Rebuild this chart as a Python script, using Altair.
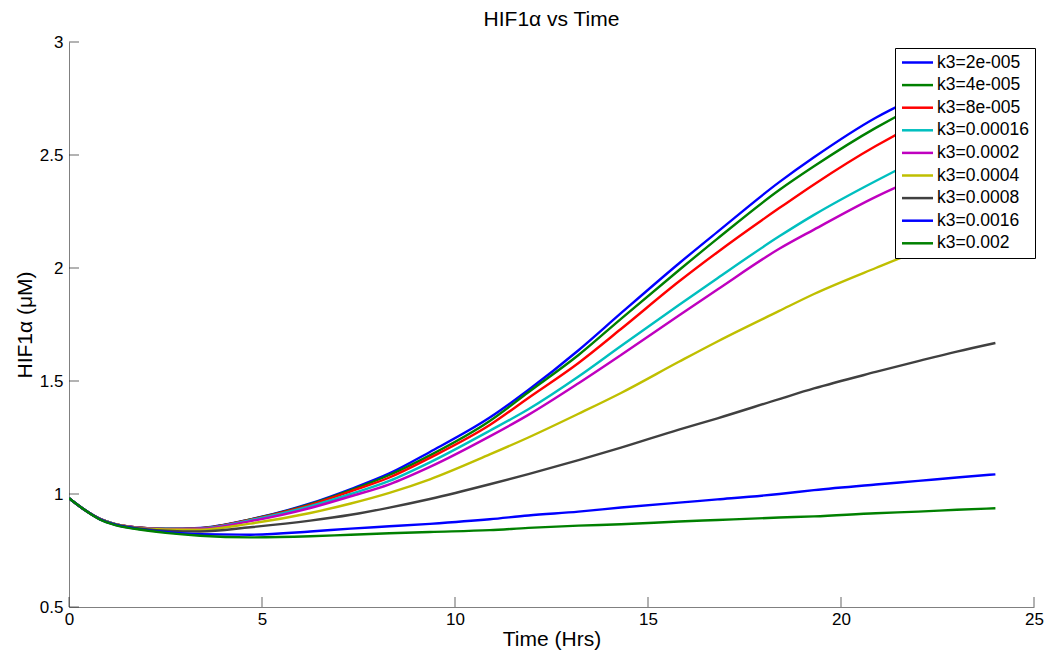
import altair as alt
import pandas as pd

# ---- data ----
time_hrs = [0, 0.4, 0.8, 1.2, 1.7, 2.5, 3.4, 4.7, 6.25, 7.3, 8.3, 9.35, 10.9, 11.9,
            13.2, 14.3, 15.8, 16.8, 18.4, 19.3, 20.9, 22.0, 23.0, 24.0]

labels = ["k3=2e-005", "k3=4e-005", "k3=8e-005", "k3=0.00016", "k3=0.0002",
          "k3=0.0004", "k3=0.0008", "k3=0.0016", "k3=0.002"]
colors = ["#0000FF", "#008000", "#FF0000", "#00BFBF", "#BF00BF",
          "#BFBF00", "#404040", "#0000FF", "#008000"]

k3_2e5 = [0.981, 0.930, 0.890, 0.867, 0.853, 0.846, 0.850, 0.888, 0.958, 1.022, 1.091, 1.186,
          1.338, 1.460, 1.636, 1.800, 2.020, 2.160, 2.380, 2.490, 2.665, 2.760, 2.840, 2.910]
k3_4e5 = [0.981, 0.930, 0.890, 0.867, 0.853, 0.845, 0.849, 0.887, 0.955, 1.017, 1.084, 1.171,
          1.323, 1.450, 1.615, 1.775, 1.990, 2.130, 2.345, 2.450, 2.620, 2.720, 2.800, 2.870]
k3_8e5 = [0.981, 0.930, 0.890, 0.867, 0.853, 0.845, 0.848, 0.886, 0.952, 1.012, 1.073, 1.160,
          1.305, 1.425, 1.580, 1.730, 1.940, 2.070, 2.265, 2.370, 2.540, 2.640, 2.720, 2.790]
k3_16e5 = [0.981, 0.930, 0.890, 0.867, 0.852, 0.845, 0.847, 0.884, 0.946, 1.000, 1.058, 1.140,
           1.280, 1.375, 1.520, 1.655, 1.836, 1.955, 2.140, 2.235, 2.385, 2.480, 2.560, 2.630]
k3_2e4 = [0.981, 0.930, 0.890, 0.866, 0.852, 0.844, 0.846, 0.880, 0.938, 0.990, 1.043, 1.120,
          1.255, 1.350, 1.490, 1.615, 1.790, 1.905, 2.085, 2.170, 2.315, 2.400, 2.470, 2.530]
k3_4e4 = [0.981, 0.930, 0.889, 0.866, 0.851, 0.843, 0.842, 0.869, 0.916, 0.958, 1.005, 1.065,
          1.175, 1.250, 1.355, 1.447, 1.585, 1.675, 1.810, 1.885, 2.000, 2.075, 2.135, 2.190]
k3_8e4 = [0.981, 0.930, 0.889, 0.865, 0.850, 0.838, 0.834, 0.853, 0.882, 0.908, 0.940, 0.978,
          1.043, 1.088, 1.150, 1.205, 1.285, 1.335, 1.420, 1.467, 1.540, 1.588, 1.630, 1.668]
k3_16e4 = [0.981, 0.930, 0.888, 0.864, 0.848, 0.832, 0.822, 0.820, 0.834, 0.847, 0.857, 0.868,
           0.888, 0.905, 0.922, 0.940, 0.962, 0.976, 1.000, 1.017, 1.042, 1.058, 1.073, 1.087]
k3_2e3 = [0.981, 0.930, 0.887, 0.862, 0.846, 0.828, 0.815, 0.808, 0.813, 0.820, 0.826, 0.832,
          0.840, 0.850, 0.860, 0.866, 0.878, 0.885, 0.896, 0.901, 0.915, 0.922, 0.930, 0.937]

series = [k3_2e5, k3_4e5, k3_8e5, k3_16e5, k3_2e4, k3_4e4, k3_8e4, k3_16e4, k3_2e3]

x_ticks = [0, 5, 10, 15, 20, 25]
y_ticks = [0.5, 1, 1.5, 2, 2.5, 3]
x_min, x_max = 0, 25
y_min, y_max = 0.5, 3

rows = []
for i, (lab, vals) in enumerate(zip(labels, series)):
    for t, v in zip(time_hrs, vals):
        rows.append({"t": t, "v": v, "k3": lab, "order": i})
df = pd.DataFrame(rows)

FONT = "Liberation Sans"

x_scale = alt.Scale(domain=[x_min, x_max], nice=False, zero=False)
y_scale = alt.Scale(domain=[y_min, y_max], nice=False, zero=False)
x_axis = alt.Axis(values=x_ticks, title="Time (Hrs)", format="d", labelPadding=4,
                  titlePadding=1, tickSize=0, labelFlush=False)
y_axis = alt.Axis(values=y_ticks, title="HIF1α (μM)", format=".1~f", labelPadding=6,
                  titlePadding=4, tickSize=0, labelFlush=False)

lines = alt.Chart(df).mark_line(strokeWidth=2.4, interpolate="monotone", clip=True).encode(
    x=alt.X("t:Q", scale=x_scale, axis=x_axis),
    y=alt.Y("v:Q", scale=y_scale, axis=y_axis),
    color=alt.Color(
        "k3:N",
        scale=alt.Scale(domain=labels, range=colors),
        sort=labels,
        legend=alt.Legend(
            title=None, orient="none", legendX=826, legendY=6,
            fillColor="white", strokeColor="black", padding=5.5,
            symbolType="M-1,0H3.133", symbolSize=225, symbolStrokeWidth=2.5,
            labelFont=FONT, labelFontSize=17.5, labelColor="black",
            rowPadding=4.6, labelOffset=18.5,
        ),
    ),
    detail="order:O",
)

x_tick_marks = alt.Chart(pd.DataFrame({"t": x_ticks})).mark_tick(
    orient="vertical", size=10, thickness=1, color="#262626", yOffset=-5
).encode(
    x=alt.X("t:Q", scale=x_scale, axis=x_axis),
    y=alt.datum(y_min),
)

y_tick_marks = alt.Chart(pd.DataFrame({"v": y_ticks})).mark_tick(
    orient="horizontal", size=10, thickness=1, color="#262626", xOffset=5
).encode(
    y=alt.Y("v:Q", scale=y_scale, axis=y_axis),
    x=alt.datum(x_min),
)

chart = alt.layer(lines, x_tick_marks, y_tick_marks).properties(
    width=965, height=565,
    title=alt.TitleParams("HIF1α vs Time", font=FONT, fontSize=21, fontWeight="normal",
                          color="black", anchor="middle", offset=3),
    autosize=alt.AutoSizeParams(type="none"),
    padding={"left": 61, "top": 34, "right": 10, "bottom": 43},
).configure_axis(
    domainColor="#808080", grid=False, ticks=False,
    labelFont=FONT, labelFontSize=17, labelColor="black",
    titleFont=FONT, titleFontSize=21, titleFontWeight="normal", titleColor="black",
).configure_view(stroke=None)

chart.save("out.html", embed_options={"renderer": "svg", "actions": False})
